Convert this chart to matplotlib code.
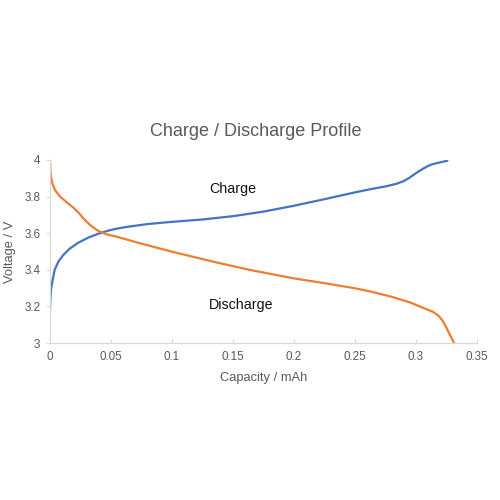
import matplotlib
matplotlib.use("Agg")
import matplotlib.pyplot as plt

# Data
charge_cap = [0.0, 0.0003, 0.0008, 0.0019, 0.0038, 0.0068, 0.0109, 0.0164, 0.0232, 0.0314,
              0.0396, 0.0478, 0.0533, 0.0615, 0.08, 0.1, 0.125, 0.15, 0.175, 0.2,
              0.225, 0.25, 0.2623, 0.276, 0.284, 0.2896, 0.294, 0.2978, 0.302, 0.306,
              0.3095, 0.3129, 0.3197, 0.3257]
charge_v = [3.178, 3.244, 3.290, 3.335, 3.399, 3.444, 3.481, 3.517, 3.548, 3.576,
            3.597, 3.614, 3.623, 3.633, 3.650, 3.662, 3.675, 3.693, 3.718, 3.750,
            3.786, 3.823, 3.840, 3.857, 3.870, 3.884, 3.900, 3.918, 3.937, 3.953,
            3.966, 3.976, 3.987, 3.996]

discharge_cap = [0.0, 0.0003, 0.0008, 0.0019, 0.0041, 0.0082, 0.0137, 0.0191, 0.0232, 0.0273,
                 0.0328, 0.0396, 0.0464, 0.0533, 0.0615, 0.0738, 0.1, 0.134, 0.164, 0.2,
                 0.225, 0.25, 0.2623, 0.2787, 0.295, 0.3088, 0.314, 0.3183, 0.3215, 0.3245,
                 0.3275, 0.3312]
discharge_v = [4.0, 3.945, 3.909, 3.873, 3.836, 3.800, 3.769, 3.740, 3.714, 3.681,
               3.645, 3.612, 3.594, 3.583, 3.568, 3.545, 3.499, 3.444, 3.399, 3.353,
               3.327, 3.299, 3.282, 3.255, 3.222, 3.184, 3.170, 3.150, 3.125, 3.090,
               3.048, 3.0]

x_ticks = [0, 0.05, 0.1, 0.15, 0.2, 0.25, 0.3, 0.35]
x_tick_labels = ["0", "0.05", "0.1", "0.15", "0.2", "0.25", "0.3", "0.35"]
y_ticks = [3, 3.2, 3.4, 3.6, 3.8, 4]
y_tick_labels = ["3", "3.2", "3.4", "3.6", "3.8", "4"]

title = "Charge / Discharge Profile"
xlabel = "Capacity / mAh"
ylabel = "Voltage / V"

plt.rcParams['font.family'] = ['Liberation Sans', 'DejaVu Sans']

fig = plt.figure(figsize=(5, 5), dpi=100)
ax = fig.add_axes([0.1, 0.314, 0.854, 0.366])

ax.plot(charge_cap, charge_v, color="#4472C4", lw=1.6, solid_capstyle="round",
        solid_joinstyle="round")
ax.plot(discharge_cap, discharge_v, color="#ED7D31", lw=1.6, solid_capstyle="round",
        solid_joinstyle="round")

ax.set_xlim(0, 0.35)
ax.set_ylim(3, 4)
ax.set_xticks(x_ticks)
ax.set_xticklabels(x_tick_labels)
ax.set_yticks(y_ticks)
ax.set_yticklabels(y_tick_labels)

for s in ["top", "right"]:
    ax.spines[s].set_visible(False)
for s in ["left", "bottom"]:
    ax.spines[s].set_color("#D9D9D9")
    ax.spines[s].set_linewidth(0.9)

ax.tick_params(axis="x", direction="in", length=3, color="#D9D9D9", labelsize=8.4,
               labelcolor="#595959", pad=6)
ax.tick_params(axis="y", direction="out", length=3, color="#D9D9D9", labelsize=8.4,
               labelcolor="#595959", pad=4)

ax.set_xlabel(xlabel, fontsize=9.3, color="#595959", labelpad=6)
ax.set_ylabel(ylabel, fontsize=9.3, color="#595959", labelpad=6)

fig.text(0.512, 0.736, title, fontsize=13, color="#595959", ha="center", va="center")

ax.text(0.150, 3.842, "Charge", fontsize=10.3, color="#111111", ha="center", va="center")
ax.text(0.1566, 3.208, "Discharge", fontsize=10.3, color="#111111", ha="center", va="center")

fig.savefig("out.png", dpi=100, facecolor="white")
